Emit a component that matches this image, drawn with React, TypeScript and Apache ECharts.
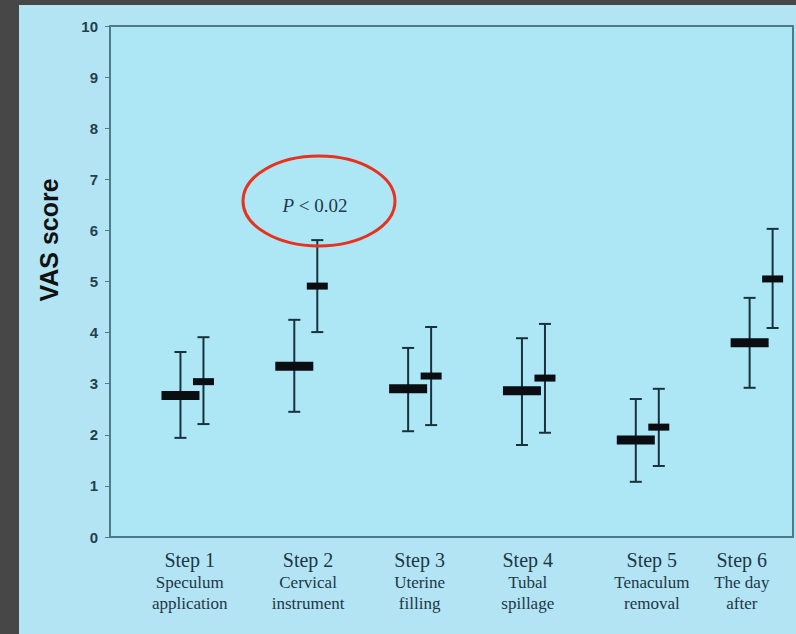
import React, { useEffect, useRef } from "react";
import * as echarts from "echarts";

const stepNames = ["Step 1", "Step 2", "Step 3", "Step 4", "Step 5", "Step 6"];
const stepLine2 = ["Speculum", "Cervical", "Uterine", "Tubal", "Tenaculum", "The day"];
const stepLine3 = ["application", "instrument", "filling", "spillage", "removal", "after"];
const stepPositions = [1, 2, 3, 4, 5, 6];
const labelPositions = [0.98, 2.02, 3.0, 3.95, 5.04, 5.83];

const leftMean = [2.77, 3.34, 2.9, 2.86, 1.9, 3.8];
const leftLow = [1.94, 2.45, 2.07, 1.8, 1.08, 2.92];
const leftHigh = [3.62, 4.25, 3.7, 3.89, 2.7, 4.68];

const rightMean = [3.04, 4.91, 3.15, 3.11, 2.15, 5.05];
const rightLow = [2.21, 4.01, 2.19, 2.04, 1.39, 4.09];
const rightHigh = [3.91, 5.81, 4.11, 4.17, 2.9, 6.03];

const yTicks = [0, 1, 2, 3, 4, 5, 6, 7, 8, 9, 10];

const AXIS_COLOR = "#4f7a88";
const TEXT_COLOR = "#1c3747";

function makeRenderer(offset: number, barW: number, barH: number) {
  return (params: any, api: any) => {
    const x = api.value(0);
    const m = api.value(1);
    const lo = api.value(2);
    const hi = api.value(3);
    const pm = api.coord([x, m]);
    const plo = api.coord([x, lo]);
    const phi = api.coord([x, hi]);
    const cx = pm[0] + offset;
    const capHalf = 6;
    const lineStyle = { stroke: "#17323d", lineWidth: 2 };
    return {
      type: "group",
      children: [
        { type: "line", shape: { x1: cx, y1: phi[1], x2: cx, y2: plo[1] }, style: lineStyle },
        { type: "line", shape: { x1: cx - capHalf, y1: phi[1], x2: cx + capHalf, y2: phi[1] }, style: lineStyle },
        { type: "line", shape: { x1: cx - capHalf, y1: plo[1], x2: cx + capHalf, y2: plo[1] }, style: lineStyle },
        {
          type: "rect",
          shape: { x: cx - barW / 2, y: pm[1] - barH / 2, width: barW, height: barH },
          style: { fill: "#0a0d12" },
        },
      ],
    };
  };
}

export default function App() {
  const ref = useRef<HTMLDivElement>(null);

  useEffect(() => {
    if (!ref.current) return;
    const chart = echarts.init(ref.current, undefined, { renderer: "svg" });
    const leftData = stepPositions.map((s, i) => [s, leftMean[i], leftLow[i], leftHigh[i]]);
    const rightData = stepPositions.map((s, i) => [s, rightMean[i], rightLow[i], rightHigh[i]]);

    chart.setOption({
      animation: false,
      backgroundColor: "#b3e4f3",
      textStyle: { fontFamily: "Liberation Serif" },
      grid: {
        left: 91,
        top: 21,
        right: 3,
        bottom: 97,
        show: true,
        backgroundColor: "#ade7f6",
        borderColor: AXIS_COLOR,
        borderWidth: 2,
      },
      xAxis: {
        type: "value",
        min: 0.28,
        max: 6.28,
        splitLine: { show: false },
        axisTick: { show: false },
        axisLine: { show: true, lineStyle: { color: AXIS_COLOR, width: 2 } },
        axisLabel: {
          customValues: labelPositions,
          margin: 11,
          interval: 0,
          formatter: (v: number) => {
            let idx = 0;
            let best = Infinity;
            labelPositions.forEach((p, i) => {
              const d = Math.abs(p - v);
              if (d < best) {
                best = d;
                idx = i;
              }
            });
            return `{a|${stepNames[idx]}}\n{b|${stepLine2[idx]}}\n{b|${stepLine3[idx]}}`;
          },
          rich: {
            a: { fontFamily: "Liberation Serif", fontSize: 20, color: TEXT_COLOR, lineHeight: 24 },
            b: { fontFamily: "Liberation Serif", fontSize: 17, color: TEXT_COLOR, lineHeight: 21 },
          },
        },
      },
      yAxis: {
        type: "value",
        min: 0,
        max: 10,
        interval: 1,
        splitLine: { show: false },
        axisLine: { show: true, lineStyle: { color: AXIS_COLOR, width: 2 } },
        axisTick: { show: true, length: 5, lineStyle: { color: AXIS_COLOR, width: 1 } },
        axisLabel: {
          customValues: yTicks,
          margin: 12,
          fontFamily: "Liberation Sans",
          fontWeight: "bold",
          fontSize: 15,
          color: "#223f4e",
        },
      },
      graphic: [
        {
          type: "text",
          x: 30,
          y: 235,
          rotation: Math.PI / 2,
          style: {
            text: "VAS score",
            fontFamily: "Liberation Sans",
            fontWeight: "bold",
            fontSize: 25,
            fill: "#111111",
            align: "center",
            verticalAlign: "middle",
          },
        },
        {
          type: "ellipse",
          shape: { cx: 300, cy: 196, rx: 76, ry: 45 },
          style: { fill: "none", stroke: "#e8321e", lineWidth: 3 },
          z: 10,
        },
        {
          type: "text",
          x: 296,
          y: 200,
          style: {
            text: "{i|P} < 0.02",
            fontFamily: "Liberation Serif",
            fontSize: 19,
            fill: "#1f3a4a",
            align: "center",
            verticalAlign: "middle",
            rich: {
              i: { fontFamily: "Liberation Serif", fontStyle: "italic", fontSize: 19, fill: "#1f3a4a" },
            },
          },
          z: 10,
        },
      ],
      series: [
        {
          type: "custom",
          name: "Left",
          renderItem: makeRenderer(-11.5, 38, 9),
          data: leftData,
          encode: { x: 0, y: [1, 2, 3] },
        },
        {
          type: "custom",
          name: "Right",
          renderItem: makeRenderer(11.5, 21, 7),
          data: rightData,
          encode: { x: 0, y: [1, 2, 3] },
        },
      ],
    });
    return () => chart.dispose();
  }, []);

  return (
    <div
      style={{
        position: "absolute",
        left: 0,
        top: 0,
        width: 796,
        height: 634,
        background: "#474747",
      }}
    >
      <div
        ref={ref}
        style={{ position: "absolute", left: 19, top: 5, width: 777, height: 629 }}
      />
    </div>
  );
}
